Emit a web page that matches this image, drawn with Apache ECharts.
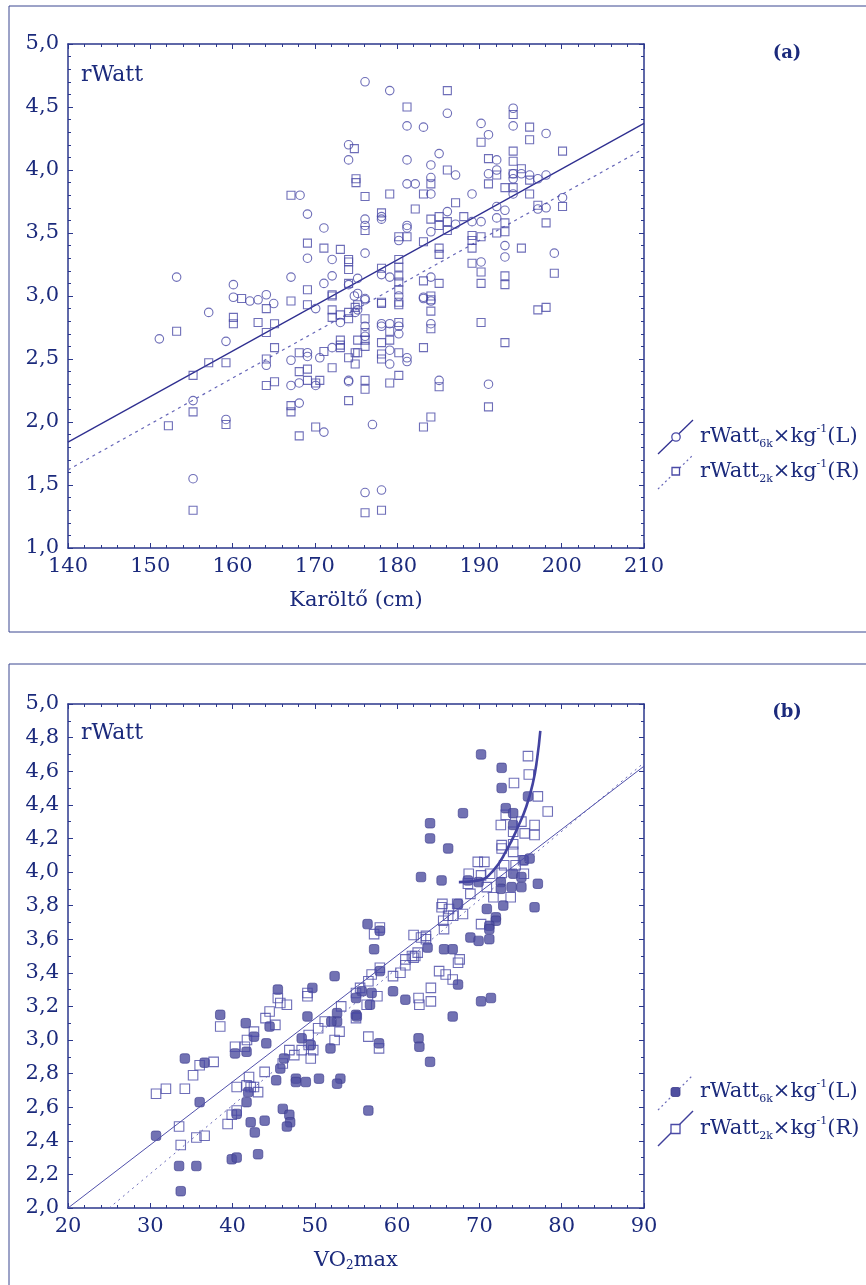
<!DOCTYPE html>
<html>
<head>
<meta charset="utf-8">
<script src="https://cdn.jsdelivr.net/npm/echarts@6/dist/echarts.min.js"></script>
<style>html,body{margin:0;padding:0;background:#fff}#c{width:866px;height:1285px}</style>
</head>
<body>
<div id="c"></div>
<script>
// ---------- DATA ----------
// Panel (a): Karöltő (cm) vs rWatt
const aXTicks = [140, 150, 160, 170, 180, 190, 200, 210];
const aYTicks = [1.0, 1.5, 2.0, 2.5, 3.0, 3.5, 4.0, 4.5, 5.0];
const a6k = [ // circles (L)
 [153.2,3.15],[160.1,3.09],[168.2,3.80],[169.1,3.65],[171.1,3.54],[169.1,3.30],[172.1,3.29],[167.1,3.15],[172.1,3.16],[171.1,3.10],[174.1,3.09],[174.1,4.20],[174.1,4.08],
 [160.1,2.99],[162.1,2.96],[163.1,2.97],[164.1,3.01],[165.0,2.94],[170.1,2.90],[173.1,2.79],[174.8,3.00],[174.9,2.87],[157.1,2.87],[151.1,2.66],[159.2,2.64],[164.1,2.45],[155.2,2.17],[159.2,2.02],[155.2,1.55],[167.1,2.49],[169.1,2.55],[169.1,2.52],[170.6,2.51],[172.1,2.59],[167.1,2.29],[168.1,2.31],[170.1,2.29],[174.1,2.33],[168.1,2.15],[171.1,1.92],
 [176.1,4.70],[179.1,4.63],[186.1,4.45],[181.2,4.35],[183.2,4.34],[194.1,4.49],[194.1,4.35],[190.2,4.37],[191.1,4.28],[198.1,4.29],[181.2,4.08],[185.1,4.13],[187.1,3.96],[192.1,4.00],[191.1,3.97],[194.1,3.93],[195.1,3.97],[196.1,3.96],[197.1,3.93],[198.1,3.96],[194.1,3.81],[184.1,3.81],[181.2,3.89],[182.2,3.89],[184.1,3.94],[184.1,4.04],[189.1,3.81],[192.1,3.71],[193.1,3.68],[192.1,3.62],[197.1,3.69],[198.1,3.70],[200.1,3.78],[176.1,3.61],[176.1,3.56],[178.1,3.63],[178.1,3.61],[181.2,3.56],[181.2,3.54],[180.2,3.44],[184.1,3.51],[186.1,3.67],[187.1,3.57],[189.1,3.59],[190.2,3.59],[176.1,3.34],[193.1,3.40],[193.1,3.31],[199.1,3.34],[190.2,3.27],[179.1,3.15],[178.1,3.17],[184.1,3.15],[183.2,2.99],[175.2,3.14],[175.2,3.02],[176.1,2.98],
 [176.1,2.97],[175.2,2.89],[183.2,2.98],[184.1,2.96],[176.1,2.76],[178.1,2.78],[178.1,2.76],[179.1,2.78],[179.1,2.57],[179.1,2.46],[180.2,2.76],[180.2,2.70],[181.2,2.51],[181.2,2.48],[184.1,2.78],[176.1,2.68],[174.1,2.32],[185.1,2.33],[191.1,2.30],[177.0,1.98],[176.1,1.44],[178.1,1.46],[180.2,3.00],[192.1,4.08],[194.1,3.97]
];
const a2k = [ // squares (R)
 [167.1,3.80],[169.1,3.42],[171.1,3.38],[173.1,3.37],[174.1,3.29],[174.1,3.27],[174.1,3.21],[174.1,3.10],[169.1,3.05],[172.1,3.01],[174.8,4.17],[175.0,3.93],[175.0,3.90],[161.1,2.98],[167.1,2.96],[169.1,2.93],[172.1,3.00],[172.1,2.89],[173.1,2.85],[172.1,2.83],[174.1,2.87],[174.1,2.82],[174.9,2.91],[160.1,2.83],[160.1,2.78],[153.2,2.72],[163.1,2.79],[164.1,2.90],[164.1,2.71],[165.1,2.78],[165.1,2.59],[164.1,2.50],[157.1,2.47],[159.2,2.47],[155.2,2.37],[155.2,2.08],[152.2,1.97],[159.2,1.98],[155.2,1.30],[168.1,2.55],[171.1,2.56],[172.1,2.43],[174.1,2.51],[174.9,2.55],[174.9,2.46],[168.1,2.40],[169.1,2.42],[173.1,2.65],[173.1,2.61],[173.1,2.59],[164.1,2.29],[165.1,2.32],[169.1,2.33],[170.1,2.31],[170.6,2.33],[174.1,2.17],[167.1,2.13],[167.1,2.08],[168.1,1.89],[170.1,1.96],
 [186.1,4.63],[181.2,4.50],[194.1,4.44],[196.1,4.34],[196.1,4.24],[190.2,4.22],[200.1,4.15],[186.1,4.00],[191.1,4.09],[192.1,3.96],[191.1,3.89],[194.1,4.15],[194.1,4.07],[194.1,3.97],[195.1,4.01],[196.1,3.92],[193.1,3.86],[194.1,3.86],[196.1,3.81],[176.1,3.79],[179.1,3.81],[183.2,3.81],[184.1,3.89],[182.2,3.69],[187.1,3.74],[193.1,3.58],[197.1,3.72],[200.1,3.71],[198.1,3.58],[176.1,3.52],[178.1,3.66],[181.2,3.47],[180.2,3.47],[184.1,3.61],[185.1,3.63],[185.1,3.56],[186.1,3.59],[186.1,3.52],[188.1,3.63],[190.2,3.47],[189.1,3.48],[189.1,3.44],[189.1,3.38],[192.1,3.50],[193.1,3.51],[183.2,3.43],[185.1,3.38],[185.1,3.33],[195.1,3.38],[199.1,3.18],[189.1,3.26],[190.2,3.19],[190.2,3.10],[193.1,3.16],[193.1,3.09],[180.2,3.29],[180.2,3.23],[180.2,3.16],[180.2,3.11],[180.2,3.05],[178.1,3.22],[183.2,3.12],[185.1,3.10],[184.1,3.00],[184.1,2.97],[178.1,2.95],[180.2,2.95],[175.2,2.93],[178.1,2.94],[180.2,2.93],[184.1,2.88],[197.1,2.89],[198.1,2.91],[190.2,2.79],[193.1,2.63],[176.1,2.82],[176.1,2.71],[176.1,2.65],[175.2,2.65],[176.1,2.60],[175.2,2.55],[179.1,2.72],[179.1,2.65],[178.1,2.63],[178.1,2.54],[178.1,2.50],[180.2,2.79],[180.2,2.55],[180.2,2.37],[183.2,2.59],[184.1,2.74],[176.1,2.33],[176.1,2.26],[179.1,2.31],[185.1,2.28],[191.1,2.12],[184.1,2.04],[183.2,1.96],[176.1,1.28],[178.1,1.30]
];
const aFitX = [140, 210];
const aFit6k = [1.84, 4.37];   // solid (L)
const aFit2k = [1.62, 4.17];   // dotted (R)

// Panel (b): VO2max vs rWatt
const bXTicks = [20, 30, 40, 50, 60, 70, 80, 90];
const bYTicks = [2.0, 2.2, 2.4, 2.6, 2.8, 3.0, 3.2, 3.4, 3.6, 3.8, 4.0, 4.2, 4.4, 4.6, 4.8, 5.0];
const b6k = [ // filled squares (L)
 [70.2,4.70],[72.7,4.62],[72.7,4.50],[75.9,4.45],[68.0,4.35],[73.2,4.38],[74.1,4.35],[64.0,4.29],[64.0,4.20],[74.1,4.28],[66.2,4.14],[62.9,3.97],[65.4,3.95],[68.6,3.95],[69.9,3.94],[74.1,3.99],[75.1,3.97],[77.1,3.93],[72.6,3.94],[72.6,3.90],[73.9,3.91],[75.1,3.91],[75.4,4.07],[76.1,4.08],[72.9,3.80],[76.7,3.79],[67.4,3.81],[70.9,3.78],[72.0,3.73],[72.0,3.71],[71.2,3.68],[71.2,3.66],[56.4,3.69],[57.9,3.65],[68.9,3.61],[69.9,3.59],[71.2,3.60],[57.2,3.54],[63.7,3.55],[65.7,3.54],[66.75,3.54],
 [57.9,3.41],[55.7,3.29],[55.0,3.25],[56.9,3.28],[59.5,3.29],[61.0,3.24],[67.4,3.33],[56.7,3.21],[55.0,3.15],[70.2,3.23],[71.4,3.25],[66.75,3.14],[57.8,2.98],[62.6,3.01],[62.7,2.96],[64.0,2.87],[56.5,2.58],
 [52.4,3.38],[45.5,3.30],[49.7,3.31],[38.5,3.15],[41.6,3.10],[42.6,3.02],[44.5,3.08],[44.1,2.98],[40.3,2.92],[41.7,2.93],[49.1,3.14],[48.4,3.01],[49.5,2.97],[51.9,2.95],[52.7,3.16],[52.7,3.11],[52.0,3.11],[34.2,2.89],[36.6,2.865],[46.25,2.89],[45.8,2.83],[45.3,2.76],[47.7,2.77],[47.7,2.75],[48.9,2.75],[50.5,2.77],[53.1,2.77],[52.7,2.74],[41.9,2.69],[41.7,2.63],[40.5,2.56],[42.2,2.51],[43.9,2.52],[42.7,2.45],[43.1,2.32],[46.1,2.59],[46.9,2.555],[47.0,2.51],[46.6,2.485],[36.0,2.63],[30.7,2.43],[33.5,2.25],[35.6,2.25],[33.7,2.10],[39.9,2.29],[40.5,2.30],[55.1,3.14]
];
const b2k = [ // open squares (R)
 [30.7,2.68],[31.9,2.71],[34.2,2.71],[35.2,2.79],[36.0,2.85],[37.7,2.87],[38.5,3.08],[33.5,2.485],[33.7,2.375],[35.6,2.42],[36.6,2.43],[39.4,2.50],[39.9,2.555],[40.5,2.58],[40.5,2.72],[41.7,2.73],[42.0,2.78],[42.2,2.72],[42.6,2.72],[43.1,2.69],[43.9,2.81],[40.3,2.96],[41.5,2.96],[41.75,3.00],[42.6,3.05],[44.0,3.13],[44.5,3.17],[45.2,3.09],[45.5,3.25],[45.8,3.22],[46.6,3.21],[46.1,2.86],[46.9,2.94],[47.5,2.91],[48.4,2.94],[49.25,3.03],[49.25,2.97],[49.8,2.94],[49.5,2.89],[50.4,3.07],[51.2,3.11],[52.4,3.00],[53.0,3.05],[53.2,3.20],[49.1,3.26],[49.1,3.28],
 [75.9,4.69],[76.0,4.58],[74.2,4.53],[77.1,4.45],[78.3,4.36],[73.2,4.34],[72.6,4.28],[75.1,4.30],[76.7,4.28],[74.1,4.24],[75.5,4.23],[76.7,4.22],[72.7,4.16],[72.7,4.14],[74.1,4.165],[74.1,4.12],[69.8,4.06],[70.6,4.06],[73.0,4.04],[74.4,4.04],[75.3,4.07],[68.7,3.99],[70.2,3.98],[71.3,3.99],[72.7,3.995],[75.4,3.99],[68.6,3.93],[68.9,3.87],[70.9,3.91],[71.7,3.85],[73.8,3.85],[65.5,3.81],[65.4,3.79],[66.3,3.78],[67.3,3.81],[66.2,3.74],[66.8,3.74],[68.0,3.75],[65.6,3.71],[65.7,3.66],[57.9,3.67],[57.2,3.63],[70.2,3.69],[62.0,3.625],[62.9,3.61],[63.5,3.62],[63.5,3.60],[62.5,3.52],[61.8,3.50],[61.0,3.48],[67.6,3.48],
 [57.9,3.43],[56.9,3.39],[56.5,3.35],[55.5,3.31],[55.0,3.28],[57.6,3.26],[56.3,3.21],[55.0,3.13],[56.5,3.02],[57.8,2.95],[59.5,3.38],[60.4,3.40],[61.0,3.445],[62.0,3.49],[62.2,3.50],[65.1,3.41],[65.9,3.39],[66.75,3.36],[67.4,3.46],[64.1,3.31],[62.6,3.25],[62.7,3.21],[64.1,3.23]
];
const bFit2kX = [20, 90];
const bFit2k = [2.00, 4.63];   // solid (R)
const bFit6kX = [25, 90];
const bFit6k = [2.00, 4.65];   // dotted (L)
const bCurveX = [67.5, 69.9, 71.7, 73.3, 74.7, 75.7, 76.5, 77.0, 77.4];
const bCurveY = [3.94, 3.95, 4.01, 4.13, 4.27, 4.39, 4.53, 4.67, 4.84];

// ---------- STYLE ----------
const FONT = 'DejaVu Serif';
const TXT = '#1b2a7c';
const AX = '#2b378c';
const MK = '#4a4aa6';
const pairs = (xs, ys) => xs.map((x, i) => [x, ys[i]]);
const fmt = v => v.toFixed(1).replace('.', ',');

function xAxis(gi, ticks, pos, show, name, minor) {
  return {
    type: 'value', gridIndex: gi, position: pos,
    min: ticks[0], max: ticks[ticks.length - 1], interval: ticks[1] - ticks[0],
    axisLine: { show: true, onZero: false, lineStyle: { color: AX, width: 1.5 } },
    axisTick: { show: true, inside: true, length: 5, lineStyle: { color: AX } },
    minorTick: { show: true, splitNumber: minor, length: 3, lineStyle: { color: AX } },
    splitLine: { show: false },
    axisLabel: { show: show, margin: 8, color: TXT, fontFamily: FONT, fontSize: 21 },
    name: name || '', nameLocation: 'middle', nameGap: 42,
    nameTextStyle: { color: TXT, fontFamily: FONT, fontSize: 21,
      rich: { n: { color: TXT, fontFamily: FONT, fontSize: 21 },
              s: { color: TXT, fontFamily: FONT, fontSize: 12, verticalAlign: 'bottom', padding: [10, 0, 0, 0] } } }
  };
}
function yAxis(gi, ticks, pos, show, minor) {
  return {
    type: 'value', gridIndex: gi, position: pos,
    min: ticks[0], max: ticks[ticks.length - 1], interval: +(ticks[1] - ticks[0]).toFixed(2),
    axisLine: { show: true, onZero: false, lineStyle: { color: AX, width: 1.5 } },
    axisTick: { show: true, inside: true, length: 5, lineStyle: { color: AX } },
    minorTick: { show: true, splitNumber: minor, length: 3, lineStyle: { color: AX } },
    splitLine: { show: false },
    axisLabel: { show: show, margin: 9, color: TXT, fontFamily: FONT, fontSize: 21, formatter: fmt }
  };
}

const legendRich = {
  n: { fontFamily: FONT, fontSize: 21, fill: TXT, color: TXT, lineHeight: 26 },
  s: { fontFamily: FONT, fontSize: 11, fill: TXT, color: TXT, verticalAlign: 'bottom', lineHeight: 26, padding: [12, 0, 0, 0] },
  p: { fontFamily: FONT, fontSize: 11, fill: TXT, color: TXT, verticalAlign: 'top', lineHeight: 26, padding: [0, 0, 10, 0] }
};
function legendText(x, y, sub, tag) {
  return { type: 'text', x: x, y: y,
    style: { text: '{n|rWatt}{s|' + sub + '}{n|×kg}{p|-1}{n|(' + tag + ')}', rich: legendRich,
             verticalAlign: 'middle', align: 'left' } };
}

const chart = echarts.init(document.getElementById('c'), null, { renderer: 'canvas' });
chart.setOption({
  animation: false,
  backgroundColor: '#ffffff',
  grid: [
    { left: 68, top: 44, width: 576, height: 504 },
    { left: 68, top: 704, width: 576, height: 504 }
  ],
  xAxis: [
    xAxis(0, aXTicks, 'bottom', true, 'Karöltő (cm)', 5),
    xAxis(0, aXTicks, 'top', false, '', 5),
    xAxis(1, bXTicks, 'bottom', true, '{n|VO}{s|2}{n|max}', 5),
    xAxis(1, bXTicks, 'top', false, '', 5)
  ],
  yAxis: [
    yAxis(0, aYTicks, 'left', true, 5),
    yAxis(0, aYTicks, 'right', false, 5),
    yAxis(1, bYTicks, 'left', true, 2),
    yAxis(1, bYTicks, 'right', false, 2)
  ],
  series: [
    { type: 'line', xAxisIndex: 0, yAxisIndex: 0, data: pairs(aFitX, aFit6k), symbol: 'none',
      lineStyle: { color: '#2f2f90', width: 1.3 }, z: 3 },
    { type: 'line', xAxisIndex: 0, yAxisIndex: 0, data: pairs(aFitX, aFit2k), symbol: 'none',
      lineStyle: { color: '#6666b8', width: 1.2, type: [3, 4] }, z: 3 },
    { type: 'scatter', xAxisIndex: 0, yAxisIndex: 0, data: a6k, symbol: 'circle', symbolSize: 8.5,
      itemStyle: { color: 'rgba(255,255,255,0)', borderColor: MK, borderWidth: 1.1 }, z: 4 },
    { type: 'scatter', xAxisIndex: 0, yAxisIndex: 0, data: a2k, symbol: 'rect', symbolSize: 8,
      itemStyle: { color: 'rgba(255,255,255,0)', borderColor: MK, borderWidth: 1.1 }, z: 4 },

    { type: 'scatter', xAxisIndex: 2, yAxisIndex: 2, data: b6k, symbol: 'roundRect', symbolSize: 9.5,
      itemStyle: { color: '#4f4fa0', borderColor: '#3a3a8c', borderWidth: 0.8 }, z: 4 },
    { type: 'scatter', xAxisIndex: 2, yAxisIndex: 2, data: b2k, symbol: 'rect', symbolSize: 9.5,
      itemStyle: { color: 'rgba(255,255,255,0)', borderColor: MK, borderWidth: 1.1 }, z: 5 },
    { type: 'line', xAxisIndex: 2, yAxisIndex: 2, data: pairs(bFit2kX, bFit2k), symbol: 'none',
      lineStyle: { color: '#5050aa', width: 1 }, z: 6 },
    { type: 'line', xAxisIndex: 2, yAxisIndex: 2, data: pairs(bFit6kX, bFit6k), symbol: 'none',
      lineStyle: { color: '#6a6ab8', width: 1, type: [2, 4] }, z: 6 },
    { type: 'line', xAxisIndex: 2, yAxisIndex: 2, data: pairs(bCurveX, bCurveY), symbol: 'none', smooth: 0.5,
      lineStyle: { color: '#4343a0', width: 2.6 }, z: 7 }
  ],
  graphic: [
    { type: 'rect', shape: { x: 9, y: 6, width: 880, height: 626 }, style: { fill: 'none', stroke: '#3b4690', lineWidth: 1 }, silent: true },
    { type: 'rect', shape: { x: 9, y: 664, width: 880, height: 640 }, style: { fill: 'none', stroke: '#3b4690', lineWidth: 1 }, silent: true },
    { type: 'text', x: 81, y: 75, style: { text: 'rWatt', fontFamily: FONT, fontSize: 22, fill: TXT, verticalAlign: 'middle' } },
    { type: 'text', x: 81, y: 733, style: { text: 'rWatt', fontFamily: FONT, fontSize: 22, fill: TXT, verticalAlign: 'middle' } },
    { type: 'text', x: 787, y: 53, style: { text: '(a)', fontFamily: FONT, fontWeight: 'bold', fontSize: 18, fill: TXT, align: 'center', verticalAlign: 'middle' } },
    { type: 'text', x: 787, y: 712, style: { text: '(b)', fontFamily: FONT, fontWeight: 'bold', fontSize: 18, fill: TXT, align: 'center', verticalAlign: 'middle' } },
    // legend (a)
    { type: 'line', shape: { x1: 658, y1: 454, x2: 693, y2: 420 }, style: { stroke: '#2f2f90', lineWidth: 1.3 } },
    { type: 'circle', shape: { cx: 676, cy: 437, r: 4.2 }, style: { fill: '#fff', stroke: MK, lineWidth: 1.3 } },
    legendText(700, 437, '6k', 'L'),
    { type: 'line', shape: { x1: 658, y1: 489, x2: 693, y2: 455 }, style: { stroke: '#6666b8', lineWidth: 1.2, lineDash: [2, 3] } },
    { type: 'rect', shape: { x: 672, y: 467.5, width: 7.5, height: 7.5 }, style: { fill: '#fff', stroke: MK, lineWidth: 1.3 } },
    legendText(700, 472, '2k', 'R'),
    // legend (b)
    { type: 'line', shape: { x1: 658, y1: 1110, x2: 693, y2: 1075 }, style: { stroke: '#6a6ab8', lineWidth: 1.2, lineDash: [2, 3] } },
    { type: 'rect', shape: { x: 671, y: 1087.5, width: 9, height: 9, r: 2 }, style: { fill: '#4f4fa0', stroke: '#3a3a8c', lineWidth: 0.8 } },
    legendText(700, 1092, '6k', 'L'),
    { type: 'line', shape: { x1: 658, y1: 1146, x2: 693, y2: 1111 }, style: { stroke: '#3f3f9a', lineWidth: 1.4 } },
    { type: 'rect', shape: { x: 671, y: 1124.5, width: 9, height: 9 }, style: { fill: '#fff', stroke: MK, lineWidth: 1.3 } },
    legendText(700, 1129, '2k', 'R')
  ]
});
</script>
</body>
</html>
